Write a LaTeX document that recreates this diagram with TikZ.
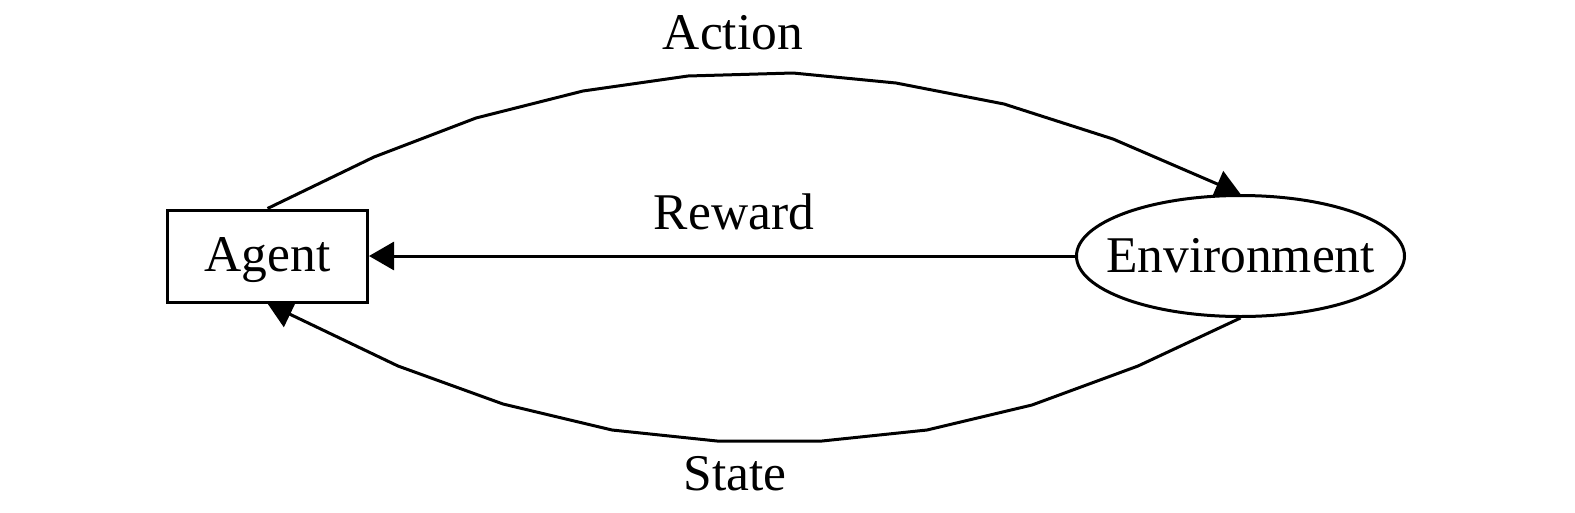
\documentclass[tikz,border=0pt]{standalone}
\usepackage{fontspec}
\setmainfont{Liberation Serif}
\usetikzlibrary{arrows.meta,shapes.geometric}
\begin{document}
\begin{tikzpicture}[x=1pt,y=-1pt,
  every node/.style={font=\fontsize{51.5}{60}\selectfont},
  lbl/.style={anchor=base,inner sep=0pt},
  conn/.style={line width=3pt,-{Triangle[length=25pt,width=28pt]}},
  agentbox/.style={draw,rectangle,line width=3pt,minimum width=200pt,minimum height=92pt,inner sep=0pt,text height=36pt,text depth=5pt},
  envbox/.style={draw,ellipse,line width=3pt,minimum width=328pt,minimum height=121pt,inner sep=0pt,text height=36pt,text depth=4pt}]
\useasboundingbox (0,0) rectangle (1575,512);
\node[agentbox] (agent) at (267.5,256) {Agent};
\node[envbox] (env) at (1240.5,256) {\makebox[0pt]{Environment}};
\draw[conn] (agent.north) -- (374,157) -- (476,118) -- (583,91) -- (688,76) -- (793,73) -- (896,83) -- (1004,104) -- (1113,139) -- (env.north);
\draw[conn] (env.west) -- (agent.east);
\draw[conn] (env.south) -- (1138,366) -- (1032,405) -- (927,430) -- (822,441) -- (717,441) -- (612,430) -- (503,404) -- (398,366) -- (agent.south);
\node[lbl] (action) at (733,49) {Action};
\node[lbl] (reward) at (734,229) {Reward};
\node[lbl] (state) at (735,490) {State};
\end{tikzpicture}
\end{document}
